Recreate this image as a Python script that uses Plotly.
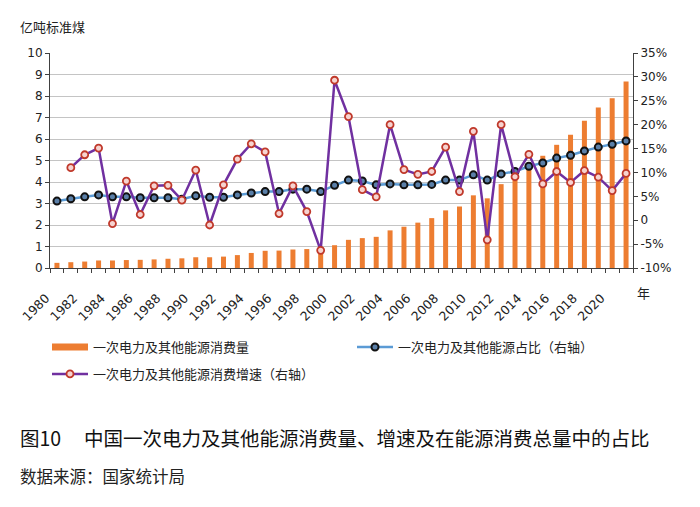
import plotly.graph_objects as go

years = [str(y) for y in range(1980, 2022)]
tick_labels = [y if int(y) % 2 == 0 else "" for y in years]

consumption = [0.24, 0.27, 0.30, 0.35, 0.35, 0.37, 0.38, 0.40, 0.43, 0.45,
               0.50, 0.50, 0.53, 0.60, 0.70, 0.80, 0.81, 0.86, 0.88, 0.83,
               1.06, 1.31, 1.39, 1.45, 1.75, 1.92, 2.11, 2.32, 2.68, 2.86,
               3.38, 3.24, 3.90, 4.26, 4.84, 5.22, 5.73, 6.20, 6.85, 7.46,
               7.90, 8.68]

share = [4.0, 4.5, 4.9, 5.3, 4.9, 4.9, 4.7, 4.7, 4.7, 4.4,
         5.1, 4.8, 4.8, 5.3, 5.7, 6.0, 6.0, 6.5, 6.5, 6.0,
         7.3, 8.4, 8.2, 7.4, 7.6, 7.4, 7.4, 7.5, 8.4, 8.4,
         9.5, 8.4, 9.7, 10.2, 11.3, 12.0, 13.0, 13.6, 14.5, 15.3,
         15.9, 16.6]

growth = [None, 11.0, 13.7, 15.1, -0.7, 8.2, 1.2, 7.2, 7.3, 4.2,
          10.5, -1.0, 7.4, 12.8, 16.0, 14.3, 1.4, 7.2, 1.8, -6.3,
          29.3, 21.7, 6.4, 4.9, 20.0, 10.6, 9.6, 10.2, 15.3, 6.0,
          18.6, -4.1, 20.0, 9.1, 13.8, 7.6, 10.2, 7.9, 10.4, 9.0,
          6.2, 9.8]

right_vals = [-10, -5, 0, 5, 10, 15, 20, 25, 30, 35]
right_text = ["-10%", "-5%", "0", "5%", "10%", "15%", "20%", "25%", "30%", "35%"]

name_bar = "一次电力及其他能源消费量"
name_share = "一次电力及其他能源占比（右轴）"
name_growth = "一次电力及其他能源消费增速（右轴）"

ORANGE = "#ED7D31"
CJK = "Noto Sans CJK SC"
NUM = "DejaVu Sans"

# plot-area pixel frame (used only for placing texts/legends)
PL, PR, PT, PB = 50, 633, 53, 268


def px(x):
    return (x - PL) / (PR - PL)


def py(y):
    return (PB - y) / (PB - PT)


fig = go.Figure()

fig.add_trace(go.Bar(x=years, y=consumption, name=name_bar, marker_color=ORANGE,
                     marker_line_width=0, showlegend=False, yaxis="y"))
# legend entry for the bars (wide swatch like the original)
fig.add_trace(go.Scatter(x=[years[0]], y=[None], mode="lines", name=name_bar,
                         line=dict(color=ORANGE, width=7), legend="legend",
                         hoverinfo="skip"))
fig.add_trace(go.Scatter(x=years, y=share, name=name_share, mode="lines+markers",
                         yaxis="y2", legend="legend2",
                         line=dict(color="#5B9BD5", width=2.5),
                         marker=dict(size=7, color="#5A7FA8",
                                     line=dict(color="#111111", width=2))))
fig.add_trace(go.Scatter(x=years, y=growth, name=name_growth, mode="lines+markers",
                         yaxis="y2", legend="legend3",
                         line=dict(color="#7030A0", width=2.5),
                         marker=dict(size=7, color="#F6D3D0",
                                     line=dict(color="#C0392B", width=1.8))))

leg_common = dict(xanchor="left", yanchor="middle", bgcolor="rgba(0,0,0,0)",
                  itemwidth=36,
                  font=dict(family=CJK, size=13, color="#222222"))

fig.update_layout(
    width=700, height=507, autosize=False,
    margin=dict(l=PL, r=700 - PR, t=PT, b=507 - PB),
    paper_bgcolor="white", plot_bgcolor="white",
    bargap=0.64,
    font=dict(family=NUM, size=12, color="#222222"),
    xaxis=dict(type="category", tickmode="array", tickvals=years, ticktext=tick_labels,
               range=[-0.5, 41.5], automargin=False,
               tickson="boundaries", ticks="outside", ticklen=4, tickcolor="#404040",
               tickangle=-45, showline=True, linecolor="#404040", linewidth=1,
               showgrid=False, tickfont=dict(family=NUM, size=12.5, color="#222222"),
               ticklabelshift=-11, ticklabelstandoff=17),
    yaxis=dict(range=[0, 10], dtick=1, tick0=0, showgrid=True, gridcolor="#C4C4C4",
               gridwidth=1, showline=True, linecolor="#404040", ticks="outside",
               ticklen=4, tickcolor="#404040", zeroline=False, automargin=False,
               tickfont=dict(family=NUM, size=12, color="#222222")),
    yaxis2=dict(range=[-10, 35], overlaying="y", side="right", tickmode="array",
                tickvals=right_vals, ticktext=right_text, showgrid=False,
                showline=True, linecolor="#404040", ticks="outside", ticklen=4,
                tickcolor="#404040", zeroline=False, automargin=False,
                tickfont=dict(family=NUM, size=12, color="#222222")),
    legend=dict(x=px(47), y=py(347), **leg_common),
    legend2=dict(x=px(352), y=py(347), **leg_common),
    legend3=dict(x=px(47), y=py(374), **leg_common),
)

annotations = [
    dict(text="亿吨标准煤", x=18, y=27, font=dict(family=CJK, size=13, color="#222222")),
    dict(text="年", x=635, y=292, font=dict(family=CJK, size=13, color="#222222")),
    dict(text="图10", x=18, y=437, font=dict(family=CJK, size=19.5, color="#111111")),
    dict(text="中国一次电力及其他能源消费量、增速及在能源消费总量中的占比", x=82, y=437,
         font=dict(family=CJK, size=19.5, color="#111111")),
    dict(text="数据来源：国家统计局", x=18, y=476,
         font=dict(family=CJK, size=16.5, color="#222222")),
]
for a in annotations:
    fig.add_annotation(text=a["text"], xref="paper", yref="paper",
                       x=px(a["x"]), y=py(a["y"]),
                       xanchor="left", yanchor="middle", showarrow=False,
                       font=a["font"])

fig.write_html("out.html", config={"displayModeBar": False},
               post_script="document.body.style.margin='0';document.body.style.overflow='hidden';")
